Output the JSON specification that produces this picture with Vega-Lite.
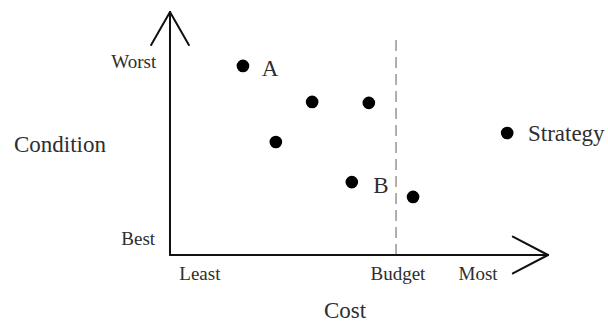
{
  "$schema": "https://vega.github.io/schema/vega-lite/v6.json",
  "width": 608,
  "height": 322,
  "padding": 0,
  "autosize": {"type": "none"},
  "background": "white",
  "config": {"view": {"stroke": null}},
  "datasets": {
    "lines": [
      {"x": 0, "y": 0, "x2": 0, "y2": 100},
      {"x": 0, "y": 0, "x2": 100, "y2": 0},
      {"x": 0, "y": 100, "x2": -5, "y2": 86.4},
      {"x": 0, "y": 100, "x2": 5, "y2": 86.4},
      {"x": 100, "y": 0, "x2": 90.7, "y2": 7.6},
      {"x": 100, "y": 0, "x2": 90.7, "y2": -7.6}
    ],
    "budget": [{"x": 59.8, "y": 0, "x2": 59.8, "y2": 90.5}],
    "strategies": [
      {"cost": 19.3, "condition": 77.8},
      {"cost": 37.6, "condition": 63.0},
      {"cost": 52.6, "condition": 62.6},
      {"cost": 28.0, "condition": 46.5},
      {"cost": 48.1, "condition": 30.0},
      {"cost": 64.3, "condition": 23.9},
      {"cost": 89.2, "condition": 50.2}
    ],
    "smallLabels": [
      {"cost": -9.6, "condition": 79.6, "label": "Worst"},
      {"cost": -8.4, "condition": 6.4, "label": "Best"},
      {"cost": 7.9, "condition": -7.8, "label": "Least"},
      {"cost": 60.3, "condition": -7.8, "label": "Budget"},
      {"cost": 81.5, "condition": -7.8, "label": "Most"}
    ],
    "bigLabels": [
      {"cost": -29.1, "condition": 45.3, "label": "Condition"},
      {"cost": 46.3, "condition": -23.0, "label": "Cost"},
      {"cost": 26.5, "condition": 76.6, "label": "A"},
      {"cost": 55.8, "condition": 28.6, "label": "B"}
    ],
    "legendLabel": [{"cost": 94.7, "condition": 49.6, "label": "Strategy"}]
  },
  "layer": [
    {
      "data": {"name": "budget"},
      "mark": {"type": "rule", "color": "#7a7a7a", "strokeWidth": 1.2, "strokeDash": [11, 6]},
      "encoding": {
        "x": {"field": "x", "type": "quantitative", "scale": {"domain": [-44.97, 115.87], "nice": false, "zero": false}, "axis": null},
        "y": {"field": "y", "type": "quantitative", "scale": {"domain": [-27.57, 104.94], "nice": false, "zero": false}, "axis": null},
        "x2": {"field": "x2"},
        "y2": {"field": "y2"}
      }
    },
    {
      "data": {"name": "lines"},
      "mark": {"type": "rule", "color": "#111111", "strokeWidth": 2, "strokeCap": "round"},
      "encoding": {
        "x": {"field": "x", "type": "quantitative", "axis": null},
        "y": {"field": "y", "type": "quantitative", "axis": null},
        "x2": {"field": "x2"},
        "y2": {"field": "y2"}
      }
    },
    {
      "data": {"name": "strategies"},
      "mark": {"type": "point", "filled": true, "shape": "circle", "size": 160, "color": "#000000", "opacity": 1},
      "encoding": {
        "x": {"field": "cost", "type": "quantitative", "axis": null},
        "y": {"field": "condition", "type": "quantitative", "axis": null}
      }
    },
    {
      "data": {"name": "smallLabels"},
      "mark": {"type": "text", "font": "Liberation Serif", "fontSize": 19, "color": "#2e2e2e", "align": "center", "baseline": "middle"},
      "encoding": {
        "x": {"field": "cost", "type": "quantitative", "axis": null},
        "y": {"field": "condition", "type": "quantitative", "axis": null},
        "text": {"field": "label"}
      }
    },
    {
      "data": {"name": "bigLabels"},
      "mark": {"type": "text", "font": "Liberation Serif", "fontSize": 23, "color": "#2e2e2e", "align": "center", "baseline": "middle"},
      "encoding": {
        "x": {"field": "cost", "type": "quantitative", "axis": null},
        "y": {"field": "condition", "type": "quantitative", "axis": null},
        "text": {"field": "label"}
      }
    },
    {
      "data": {"name": "legendLabel"},
      "mark": {"type": "text", "font": "Liberation Serif", "fontSize": 23, "color": "#2e2e2e", "align": "left", "baseline": "middle"},
      "encoding": {
        "x": {"field": "cost", "type": "quantitative", "axis": null},
        "y": {"field": "condition", "type": "quantitative", "axis": null},
        "text": {"field": "label"}
      }
    }
  ]
}
